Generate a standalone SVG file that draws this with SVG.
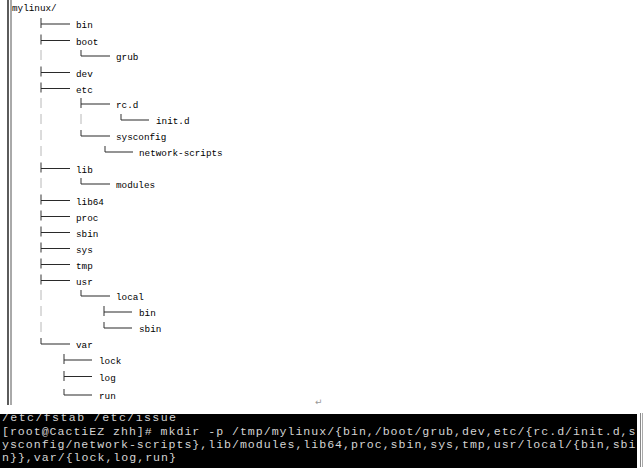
<svg xmlns="http://www.w3.org/2000/svg" width="644" height="473" viewBox="0 0 644 473">
<style>
.t{font-family:"Liberation Mono","DejaVu Sans Mono",monospace;font-size:9.3px;fill:#000;}
.c{fill:none;stroke:#2a2a2a;stroke-width:1.2;}
.v{fill:none;stroke:#555;stroke-width:1.2;}
.l{fill:none;stroke:#b8b8b8;stroke-width:1;}
.term{font-family:"Liberation Mono","DejaVu Sans Mono",monospace;font-size:11.6px;fill:#d4d4d4;}
</style>
<defs>
<clipPath id="tc"><rect x="0" y="414" width="637" height="54"/></clipPath>
</defs>
<rect width="644" height="473" fill="#fff"/>
<!-- left border -->
<line x1="8" y1="0" x2="8" y2="405" stroke="#333" stroke-width="1.6"/>
<line x1="11" y1="0" x2="11" y2="405" stroke="#555" stroke-width="1"/>

<g id="connectors">
<!-- level 1 tees at x=41 -->
<path class="v" d="M41 18V28M41 34.5V44.5M41 66.5V76.5M41 82.5V92.5M41 162.5V172.5M41 194.5V204.5M41 210.5V220.5M41 226.5V236.5M41 242.5V252.5M41 258.5V268.5M41 274.5V284.5M41 338V344"/>
<path class="c" d="M41 24H70M41 40.5H70M41 72.5H70M41 88.5H70M41 168.5H70M41 200.5H70M41 216.5H70M41 232.5H70M41 248.5H70M41 264.5H70M41 280.5H70M41 344H70"/>
<!-- light continuation ticks at x=41 -->
<path class="l" d="M41 50V60M41 98V108M41 114V124M41 130V140M41 146V156M41 178V188M41 290V300M41 306V316M41 322V332"/>
<!-- level 2 at x=81 -->
<path class="v" d="M81 50V56M81 98V108M81 130V136M81 178V184M81 290V296"/>
<path class="c" d="M81 56H110M81 104H110M81 136H110M81 184H110M81 296H110"/>
<path class="l" d="M81 114V124"/>
<!-- level 3 -->
<path class="v" d="M121 114V120M105 146V152M104 306V316M104 322V328"/>
<path class="c" d="M121 120H149M105 152H133M104 312H132M104 328H132"/>
<!-- var children at x=64 -->
<path class="v" d="M64 354V364M64 371V381M64 389V395"/>
<path class="c" d="M64 360H92M64 376.5H92M64 395H92"/>
</g>

<g id="n-mylinux"><text class="t" x="12" y="10.5">mylinux/</text></g>
<g id="n-bin"><text class="t" x="76" y="28">bin</text></g>
<g id="n-boot"><text class="t" x="76" y="44.5">boot</text></g>
<g id="n-grub"><text class="t" x="116" y="60">grub</text></g>
<g id="n-dev"><text class="t" x="76" y="76.5">dev</text></g>
<g id="n-etc"><text class="t" x="76" y="92.5">etc</text></g>
<g id="n-rcd"><text class="t" x="116" y="108">rc.d</text></g>
<g id="n-initd"><text class="t" x="156" y="124">init.d</text></g>
<g id="n-sysconfig"><text class="t" x="116" y="140">sysconfig</text></g>
<g id="n-network-scripts"><text class="t" x="139" y="156">network-scripts</text></g>
<g id="n-lib"><text class="t" x="76" y="172.5">lib</text></g>
<g id="n-modules"><text class="t" x="116" y="188">modules</text></g>
<g id="n-lib64"><text class="t" x="76" y="204.5">lib64</text></g>
<g id="n-proc"><text class="t" x="76" y="220.5">proc</text></g>
<g id="n-sbin"><text class="t" x="76" y="236.5">sbin</text></g>
<g id="n-sys"><text class="t" x="76" y="252.5">sys</text></g>
<g id="n-tmp"><text class="t" x="76" y="268.5">tmp</text></g>
<g id="n-usr"><text class="t" x="76" y="284.5">usr</text></g>
<g id="n-local"><text class="t" x="116" y="300">local</text></g>
<g id="n-local-bin"><text class="t" x="139" y="316">bin</text></g>
<g id="n-local-sbin"><text class="t" x="139" y="332">sbin</text></g>
<g id="n-var"><text class="t" x="76" y="348">var</text></g>
<g id="n-lock"><text class="t" x="99" y="364">lock</text></g>
<g id="n-log"><text class="t" x="99" y="380.5">log</text></g>
<g id="n-run"><text class="t" x="99" y="399">run</text></g>

<text x="315" y="405" font-family="DejaVu Sans,sans-serif" font-size="9" fill="#999">↵</text>

<g id="terminal">
<rect x="0" y="414" width="637" height="54" fill="#000"/>
<g clip-path="url(#tc)">
<text class="term" x="2" y="421" textLength="174" lengthAdjust="spacing">/etc/fstab  /etc/issue</text>
<text class="term" x="2" y="435" textLength="633.5" lengthAdjust="spacing">[root@CactiEZ zhh]# mkdir -p /tmp/mylinux/{bin,/boot/grub,dev,etc/{rc.d/init.d,s</text>
<text class="term" x="2" y="448" textLength="633.5" lengthAdjust="spacing">ysconfig/network-scripts},lib/modules,lib64,proc,sbin,sys,tmp,usr/local/{bin,sbi</text>
<text class="term" x="2" y="461" textLength="174" lengthAdjust="spacing">n}},var/{lock,log,run}</text>
</g>
<line x1="640.5" y1="413" x2="640.5" y2="467" stroke="#888" stroke-width="1"/>
<line x1="642.5" y1="413" x2="642.5" y2="467" stroke="#aaa" stroke-width="1"/>
</g>
</svg>
